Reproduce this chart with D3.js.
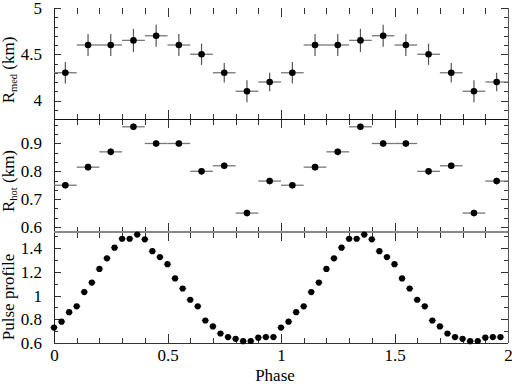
<!DOCTYPE html>
<html>
<head>
<meta charset="utf-8">
<script src="https://cdn.jsdelivr.net/npm/d3@7/dist/d3.min.js"></script>
<style>
  body { margin: 0; background: #fff; }
  svg, svg text { font-family: 'Liberation Serif', 'DejaVu Serif', serif; }
</style>
</head>
<body>
<script>
// phase bins used for the spectral fits (bin half width 0.05)
var phaseBins = [0.05, 0.15, 0.25, 0.35, 0.45, 0.55, 0.65, 0.75, 0.85, 0.95,
                 1.05, 1.15, 1.25, 1.35, 1.45, 1.55, 1.65, 1.75, 1.85, 1.95];
var binHalfWidth = 0.05;

// R_med (km) with errors
var rMed    = [4.3, 4.6, 4.6, 4.65, 4.7, 4.6, 4.5, 4.3, 4.1, 4.2,
               4.3, 4.6, 4.6, 4.65, 4.7, 4.6, 4.5, 4.3, 4.1, 4.2];
var rMedErr = [0.115, 0.12, 0.12, 0.125, 0.12, 0.12, 0.115, 0.105, 0.12, 0.10,
               0.115, 0.12, 0.12, 0.125, 0.12, 0.12, 0.115, 0.105, 0.12, 0.10];

// R_hot (km) with errors
var rHot    = [0.75, 0.815, 0.87, 0.96, 0.90, 0.90, 0.80, 0.82, 0.65, 0.765,
               0.75, 0.815, 0.87, 0.96, 0.90, 0.90, 0.80, 0.82, 0.65, 0.765];
var rHotErr = [0.012, 0.012, 0.012, 0.012, 0.012, 0.012, 0.012, 0.012, 0.012, 0.012,
               0.012, 0.012, 0.012, 0.012, 0.012, 0.012, 0.012, 0.012, 0.012, 0.012];

// pulse profile, 30 bins per cycle, two cycles
var pulsePhase = [0, 0.0333, 0.0667, 0.1, 0.1333, 0.1667, 0.2, 0.2333, 0.2667, 0.3,
                  0.3333, 0.3667, 0.4, 0.4333, 0.4667, 0.5, 0.5333, 0.5667, 0.6, 0.6333,
                  0.6667, 0.7, 0.7333, 0.7667, 0.8, 0.8333, 0.8667, 0.9, 0.9333, 0.9667,
                  1, 1.0333, 1.0667, 1.1, 1.1333, 1.1667, 1.2, 1.2333, 1.2667, 1.3,
                  1.3333, 1.3667, 1.4, 1.4333, 1.4667, 1.5, 1.5333, 1.5667, 1.6, 1.6333,
                  1.6667, 1.7, 1.7333, 1.7667, 1.8, 1.8333, 1.8667, 1.9, 1.9333, 1.9667];
var pulseProfile = [0.73, 0.78, 0.86, 0.91, 1.03, 1.11, 1.225, 1.315, 1.405, 1.48,
                    1.48, 1.515, 1.475, 1.375, 1.325, 1.265, 1.145, 1.06, 0.965, 0.91,
                    0.79, 0.74, 0.68, 0.65, 0.635, 0.615, 0.617, 0.645, 0.65, 0.65,
                    0.73, 0.78, 0.86, 0.91, 1.03, 1.11, 1.225, 1.315, 1.405, 1.48,
                    1.48, 1.515, 1.475, 1.375, 1.325, 1.265, 1.145, 1.06, 0.965, 0.91,
                    0.79, 0.74, 0.68, 0.65, 0.635, 0.615, 0.617, 0.645, 0.65, 0.65];
var pulseHalfWidth = 0.0167;

// tick labels
var phaseTicks = [0, 0.5, 1, 1.5, 2];
var rMedTicks = [4, 4.5, 5];
var rHotTicks = [0.6, 0.7, 0.8, 0.9];
var pulseTicks = [0.6, 0.8, 1, 1.2, 1.4];

var FONT = "'Liberation Serif', 'DejaVu Serif', serif";

function stepValues(lo, hi, step) {
  var out = [];
  for (var k = Math.ceil(lo / step - 1e-6); k <= Math.floor(hi / step + 1e-6); k++) {
    out.push(+(k * step).toFixed(6));
  }
  return out;
}

function draw() {
  var svg = d3.select("body").append("svg")
    .attr("width", 512)
    .attr("height", 384)
    .attr("font-family", FONT);

  var left = 54, right = 508;
  var x = d3.scaleLinear().domain([0, 2]).range([left, right]);

  var panels = [
    {y: d3.scaleLinear().domain([3.8, 5]).range([119, 8]), labels: rMedTicks, minor: 0.1,
     title: ["R", "med", " (km)"], titleY: 70},
    {y: d3.scaleLinear().domain([0.582, 0.988]).range([232, 119]), labels: rHotTicks, minor: 0.1 / 3,
     title: ["R", "hot", " (km)"], titleY: 181},
    {y: d3.scaleLinear().domain([0.6, 1.537]).range([343, 232]), labels: pulseTicks, minor: 0.1,
     title: ["Pulse profile"], titleY: 297}
  ];

  var xMinor = stepValues(0, 2, 0.1);

  panels.forEach(function(p) {
    var dom = p.y.domain();
    var top = p.y.range()[1], bottom = p.y.range()[0];
    var yMinor = stepValues(dom[0], dom[1], p.minor);
    var g = svg.append("g").attr("class", "panel");

    // inward ticks on all four sides
    function tickAxis(axis, scale, values, size, tx, ty) {
      var a = g.append("g")
        .attr("transform", "translate(" + tx + "," + ty + ")")
        .attr("color", "#333")
        .attr("shape-rendering", "crispEdges")
        .call(axis(scale).tickValues(values).tickSizeInner(-size).tickSizeOuter(0).tickFormat(""));
      a.select(".domain").remove();
    }
    tickAxis(d3.axisBottom, x, xMinor, 5.5, 0, bottom);
    tickAxis(d3.axisBottom, x, phaseTicks, 9, 0, bottom);
    tickAxis(d3.axisTop, x, xMinor, 5.5, 0, top);
    tickAxis(d3.axisTop, x, phaseTicks, 9, 0, top);
    tickAxis(d3.axisLeft, p.y, yMinor, 4, left, 0);
    tickAxis(d3.axisLeft, p.y, p.labels, 7, left, 0);
    tickAxis(d3.axisRight, p.y, yMinor, 4, right, 0);
    tickAxis(d3.axisRight, p.y, p.labels, 7, right, 0);

    // y tick labels
    var yl = g.append("g")
      .attr("transform", "translate(" + left + ",0)")
      .call(d3.axisLeft(p.y).tickValues(p.labels).tickSize(0).tickPadding(12)
        .tickFormat(function(d) { return String(d); }));
    yl.select(".domain").remove();
    yl.attr("font-family", FONT).attr("font-size", 17);
    yl.selectAll("text").attr("fill", "#000");

    // y title
    var t = g.append("text")
      .attr("transform", "translate(14," + p.titleY + ") rotate(-90)")
      .attr("text-anchor", "middle")
      .attr("font-family", FONT)
      .attr("font-size", 17)
      .attr("fill", "#000");
    t.append("tspan").text(p.title[0]);
    if (p.title.length > 1) {
      t.append("tspan").attr("font-size", 10.5).attr("dy", 3).text(p.title[1]);
      t.append("tspan").attr("dy", -3).text(p.title[2]);
    }
  });

  // frame
  var frame = svg.append("g").attr("fill", "none");
  frame.append("line").attr("x1", left).attr("x2", left).attr("y1", 8).attr("y2", 343)
    .attr("stroke", "#222").attr("shape-rendering", "crispEdges");
  frame.append("line").attr("x1", right).attr("x2", right).attr("y1", 8).attr("y2", 343)
    .attr("stroke", "#555").attr("shape-rendering", "crispEdges");
  frame.append("line").attr("x1", left).attr("x2", right).attr("y1", 119).attr("y2", 119)
    .attr("stroke", "#111").attr("shape-rendering", "crispEdges");
  frame.append("line").attr("x1", left).attr("x2", right).attr("y1", 232).attr("y2", 232)
    .attr("stroke", "#888").attr("stroke-width", 2);
  frame.append("line").attr("x1", left).attr("x2", right).attr("y1", 343).attr("y2", 343)
    .attr("stroke", "#333").attr("shape-rendering", "crispEdges");

  // x tick labels and title
  var xl = svg.append("g")
    .attr("transform", "translate(0,343)")
    .call(d3.axisBottom(x).tickValues(phaseTicks).tickSize(0).tickPadding(6)
      .tickFormat(function(d) { return String(d); }));
  xl.select(".domain").remove();
  xl.attr("font-family", FONT).attr("font-size", 17);
  xl.selectAll("text").attr("fill", "#000");

  svg.append("text")
    .attr("x", 275)
    .attr("y", 381)
    .attr("text-anchor", "middle")
    .attr("font-family", FONT)
    .attr("font-size", 17)
    .text("Phase");

  // error-bar series
  function errorSeries(yScale, values, errs, r) {
    var g = svg.append("g");
    var pts = phaseBins.map(function(ph, i) { return {x: ph, y: values[i], e: errs[i]}; });
    g.selectAll("line.h").data(pts).enter().append("line")
      .attr("class", "h")
      .attr("x1", function(d) { return x(d.x - binHalfWidth); })
      .attr("x2", function(d) { return x(d.x + binHalfWidth); })
      .attr("y1", function(d) { return yScale(d.y); })
      .attr("y2", function(d) { return yScale(d.y); })
      .attr("stroke", "#777").attr("stroke-width", 1.3);
    g.selectAll("line.v").data(pts).enter().append("line")
      .attr("class", "v")
      .attr("x1", function(d) { return x(d.x); })
      .attr("x2", function(d) { return x(d.x); })
      .attr("y1", function(d) { return yScale(d.y - d.e); })
      .attr("y2", function(d) { return yScale(d.y + d.e); })
      .attr("stroke", "#555").attr("stroke-width", 1.2);
    g.selectAll("circle").data(pts).enter().append("circle")
      .attr("cx", function(d) { return x(d.x); })
      .attr("cy", function(d) { return yScale(d.y); })
      .attr("r", r)
      .attr("fill", "#000");
  }
  errorSeries(panels[0].y, rMed, rMedErr, 3.3);
  errorSeries(panels[1].y, rHot, rHotErr, 3.3);

  // pulse profile
  var py = panels[2].y;
  var pulse = pulsePhase.map(function(ph, i) { return {x: ph, y: pulseProfile[i]}; });
  var pg = svg.append("g");
  pg.selectAll("line").data(pulse).enter().append("line")
    .attr("x1", function(d) { return x(d.x - pulseHalfWidth); })
    .attr("x2", function(d) { return x(d.x + pulseHalfWidth); })
    .attr("y1", function(d) { return py(d.y); })
    .attr("y2", function(d) { return py(d.y); })
    .attr("stroke", "#888");
  pg.selectAll("circle").data(pulse).enter().append("circle")
    .attr("cx", function(d) { return x(d.x); })
    .attr("cy", function(d) { return py(d.y); })
    .attr("r", 3.1)
    .attr("fill", "#000");
}

window.onload = draw;
</script>
</body>
</html>
